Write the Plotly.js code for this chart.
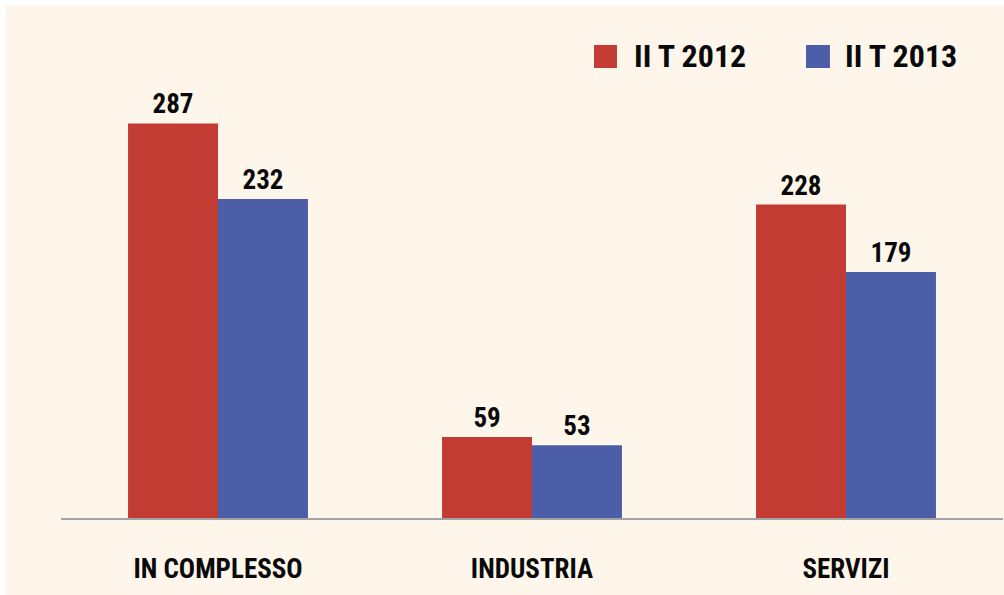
<!DOCTYPE html>
<html>
<head>
<meta charset="utf-8">
<script src="https://cdn.plot.ly/plotly-3.0.1.min.js"></script>
<style>
  html, body { margin: 0; padding: 0; background: #ffffff; width: 1004px; height: 595px; overflow: hidden; }
  #chart { position: absolute; left: 6px; top: 5px; width: 998px; height: 590px; }
</style>
</head>
<body>
<div id="chart"></div>
<script>
const categories = ["IN COMPLESSO", "INDUSTRIA", "SERVIZI"];
const seriesNames = ["II T 2012", "II T 2013"];
const values2012 = [287, 59, 228];
const values2013 = [232, 53, 179];
const seriesColors = ["#c23c33", "#4d5ea9"];

const FONT = "'Liberation Sans Narrow', 'Arial Narrow', 'Roboto Condensed', 'DejaVu Sans Condensed', sans-serif";
const BG = "#fef6ea";

const traces = [values2012, values2013].map((vals, i) => ({
  type: "bar",
  name: seriesNames[i],
  x: categories,
  y: vals,
  marker: { color: seriesColors[i] },
  text: vals.map(String),
  textposition: "outside",
  textfont: { family: FONT, size: 27, color: "#0a0a0a", weight: 700 },
  cliponaxis: false,
  showlegend: false,
  hoverinfo: "x+y+name"
}));

// custom legend (large square swatches like the reference)
const legendPos = [
  { sx0: 0.5658, sx1: 0.5902, tx: 0.6062 },
  { sx0: 0.7909, sx1: 0.8163, tx: 0.8301 }
];
const shapes = legendPos.map((p, i) => ({
  type: "rect", xref: "paper", yref: "paper",
  x0: p.sx0, x1: p.sx1, y0: 0.8858, y1: 0.9311,
  fillcolor: seriesColors[i], line: { width: 0 }
}));
const annotations = legendPos.map((p, i) => ({
  xref: "paper", yref: "paper", x: p.tx, y: 0.9085,
  xanchor: "left", yanchor: "middle", showarrow: false,
  text: "<b>" + seriesNames[i] + "</b>",
  font: { family: FONT, size: 32, color: "#0a0a0a" }
}));

const layout = {
  width: 998, height: 590,
  paper_bgcolor: BG, plot_bgcolor: BG,
  margin: { l: 55, r: 1, t: 5, b: 77 },
  barmode: "group",
  bargap: 0.427,
  bargroupgap: 0,
  showlegend: false,
  xaxis: {
    type: "category",
    showline: true, linecolor: "#a3a3a3", linewidth: 2,
    ticks: "", showgrid: false, zeroline: false,
    tickfont: { family: FONT, size: 27, color: "#0a0a0a", weight: 700 },
    ticklabelstandoff: 26
  },
  yaxis: {
    range: [0, 369.5],
    visible: false, showgrid: false, zeroline: false
  },
  shapes: shapes,
  annotations: annotations,
  font: { family: FONT }
};

Plotly.newPlot("chart", traces, layout, { displayModeBar: false, staticPlot: true });
</script>
</body>
</html>
